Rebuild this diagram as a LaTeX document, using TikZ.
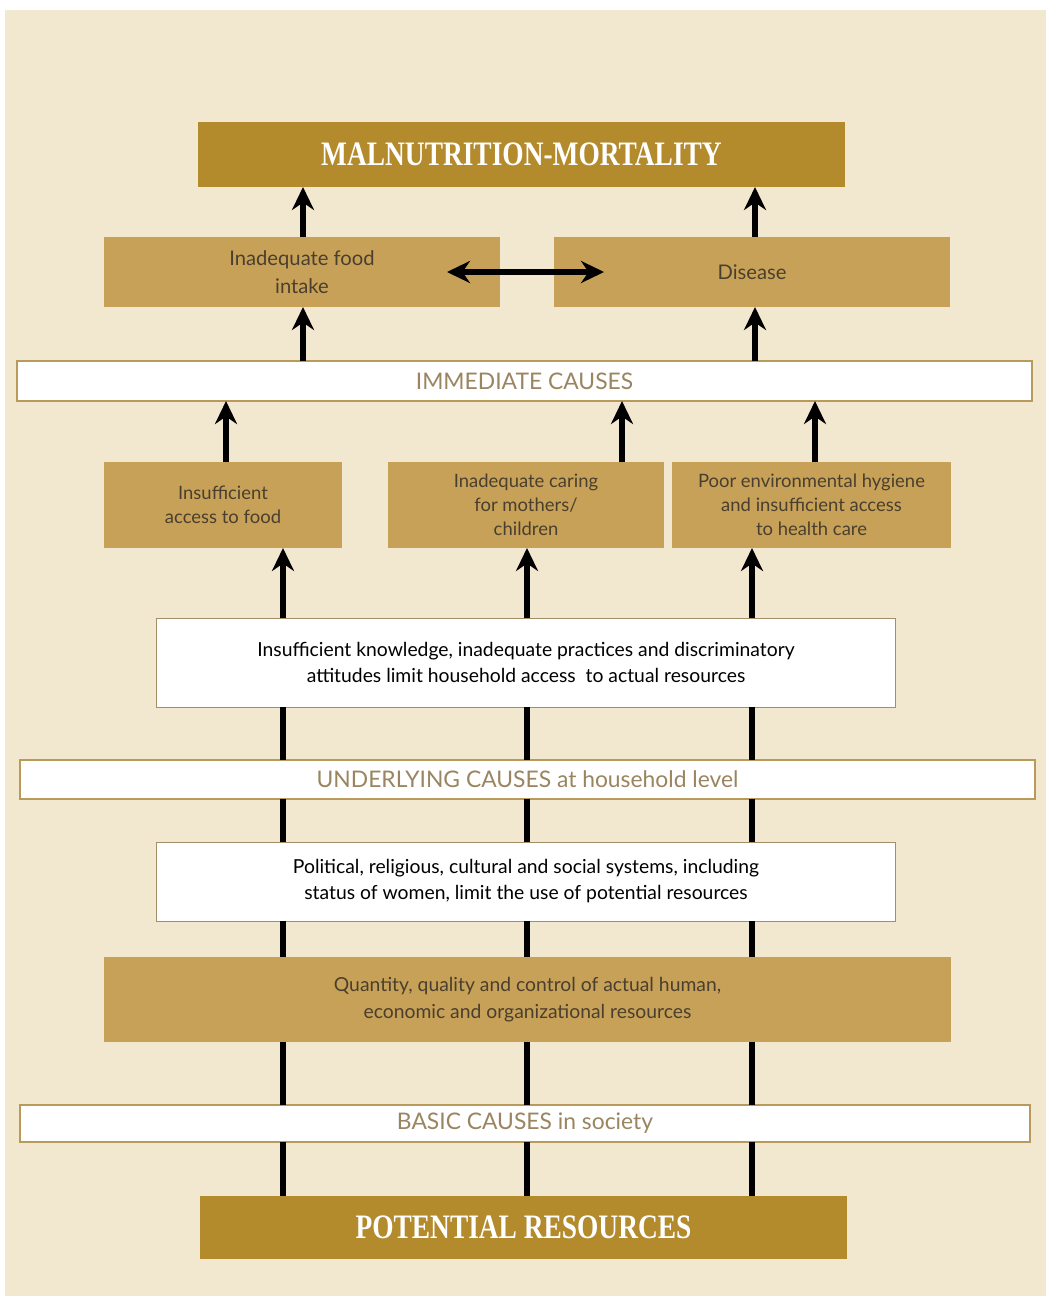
\documentclass[tikz,border=0pt]{standalone}
\usepackage{fontspec}
\setmainfont{Lato}
\newfontfamily\headfont[FakeStretch=0.8]{Liberation Serif}
\usetikzlibrary{arrows.meta,calc}
\definecolor{paper}{HTML}{F2E8CF}
\definecolor{darkgold}{HTML}{B38A2C}
\definecolor{gold}{HTML}{C7A158}
\definecolor{goldline}{HTML}{B99A5A}
\definecolor{bartext}{HTML}{9A8560}
\definecolor{boxtext}{HTML}{4A3F2E}
\tikzset{
  headbox/.style={fill=darkgold, text=white, inner sep=0pt, outer sep=0pt,
    font=\headfont\bfseries\fontsize{19.5}{22}\selectfont},
  causebox/.style={fill=gold, text=boxtext, align=center, inner sep=0pt, outer sep=0pt,
    font=\fontsize{10.5}{13.6}\selectfont},
  causebar/.style={fill=white, draw=goldline, line width=1pt, text=bartext,
    inner sep=0pt, outer sep=0pt, font=\fontsize{13}{15}\selectfont},
  factbox/.style={fill=white, draw=goldline!60!gray, line width=0.5pt, align=center,
    inner sep=0pt, outer sep=0pt, font=\fontsize{11}{14.8}\selectfont},
  link/.style={line width=3pt, black},
  uplink/.style={link, ->, >={Stealth[length=4.6mm,width=4.4mm]}}
}
\begin{document}
\begin{tikzpicture}[x=0.02cm, y=-0.02cm]
  \useasboundingbox (0,0) rectangle (1046,1296);
  \fill[white] (0,0) rectangle (1046,1296);
  \fill[paper] (5,10) rectangle (1046,1296);

  % outcome and immediate level
  \node[headbox, minimum width=12.94cm, minimum height=1.30cm] (mort) at (521.5,154.5) {MALNUTRITION-MORTALITY};
  \node[causebox, minimum width=7.92cm, minimum height=1.40cm, font=\fontsize{11.5}{15.9}\selectfont] (food) at (302,272) {Inadequate food\\intake};
  \node[causebox, minimum width=7.92cm, minimum height=1.40cm, font=\fontsize{11.5}{15.9}\selectfont] (disease) at (752,272) {Disease};
  \node[causebar, minimum width=20.30cm, minimum height=0.80cm] (immed) at (524.5,381) {IMMEDIATE CAUSES};

  % underlying level
  \node[causebox, minimum width=4.76cm, minimum height=1.72cm] (insuff) at (223,505) {Insufficient\\access to food};
  \node[causebox, minimum width=5.52cm, minimum height=1.72cm] (caring) at (526,505) {Inadequate caring\\for mothers/\\children};
  \node[causebox, minimum width=5.58cm, minimum height=1.72cm] (hyg) at (811.5,505) {Poor environmental hygiene\\and insufficient access\\to health care};
  \node[factbox, minimum width=14.80cm, minimum height=1.78cm] (know) at (526,662.5) {Insufficient knowledge, inadequate practices and discriminatory\\attitudes limit household access\ \ to actual resources};
  \node[causebar, minimum width=20.30cm, minimum height=0.78cm] (under) at (527.5,779.5) {UNDERLYING CAUSES at household level};

  % basic level
  \node[factbox, minimum width=14.80cm, minimum height=1.58cm] (polit) at (526,881.5) {Political, religious, cultural and social systems, including\\status of women, limit the use of potential resources};
  \node[causebox, minimum width=16.94cm, minimum height=1.70cm, font=\fontsize{11}{15.3}\selectfont] (quant) at (527.5,999.5) {Quantity, quality and control of actual human,\\economic and organizational resources};
  \node[causebar, minimum width=20.20cm, minimum height=0.74cm] (basic) at (525,1123.5) {BASIC CAUSES in society};
  \node[headbox, minimum width=12.94cm, minimum height=1.26cm] (potres) at (523.5,1227.5) {POTENTIAL RESOURCES};

  % columns
  \coordinate (tA) at (303,0);
  \coordinate (tB) at (755,0);
  \coordinate (uA) at (226,0);
  \coordinate (uB) at (622,0);
  \coordinate (uC) at (815,0);
  \coordinate (cA) at (283,0);
  \coordinate (cB) at (527,0);
  \coordinate (cC) at (752,0);

  \draw[uplink] (food.north -| tA) -- (mort.south -| tA);
  \draw[uplink] (disease.north -| tB) -- (mort.south -| tB);
  \draw[link, <->, >={Stealth[length=4.6mm,width=4.4mm]}] ($(food.east)+(-53,0)$) -- ($(disease.west)+(50,0)$);
  \draw[uplink] (immed.north -| tA) -- (food.south -| tA);
  \draw[uplink] (immed.north -| tB) -- (disease.south -| tB);

  \foreach \c/\b in {uA/insuff, uB/caring, uC/hyg}
    \draw[uplink] (\b.north -| \c) -- (immed.south -| \c);
  \foreach \c/\b in {cA/insuff, cB/caring, cC/hyg}
    \draw[uplink] (know.north -| \c) -- (\b.south -| \c);

  \foreach \c in {cA,cB,cC}{
    \draw[link] (under.north -| \c) -- (know.south -| \c);
    \draw[link] (polit.north -| \c) -- (under.south -| \c);
    \draw[link] (quant.north -| \c) -- (polit.south -| \c);
    \draw[link] (basic.north -| \c) -- (quant.south -| \c);
    \draw[link] (potres.north -| \c) -- (basic.south -| \c);
  }
\end{tikzpicture}
\end{document}
